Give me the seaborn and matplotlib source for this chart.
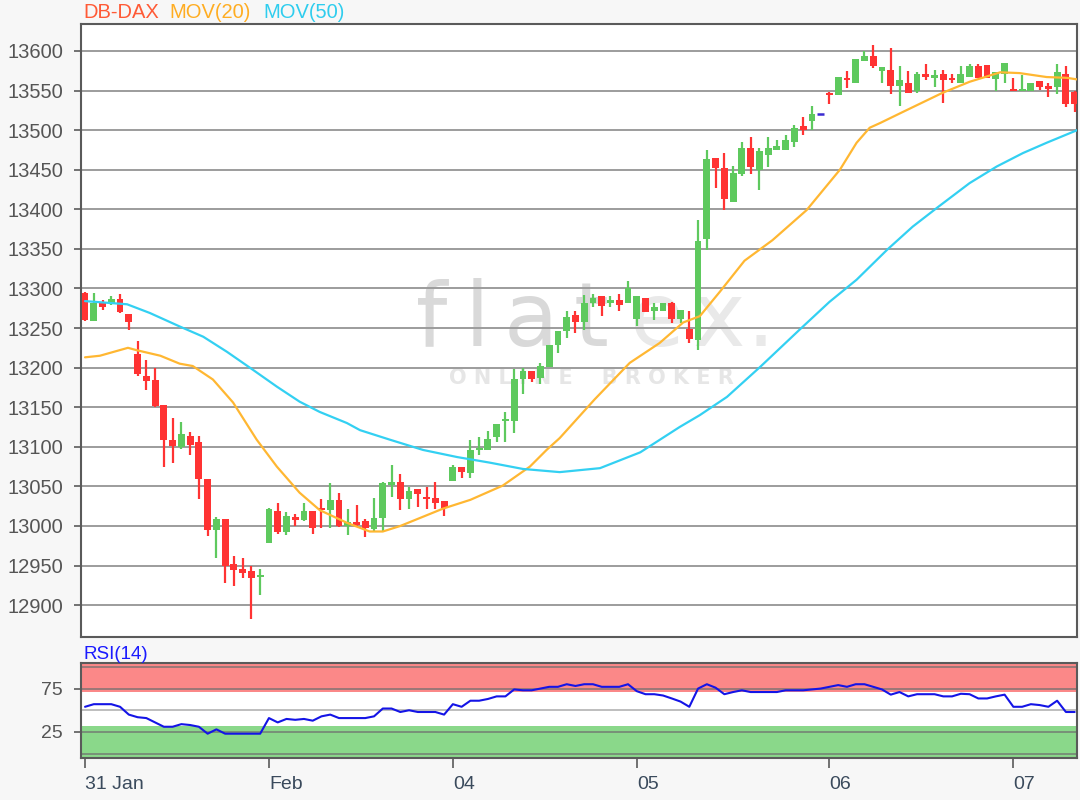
import numpy as np
import matplotlib
matplotlib.use("Agg")
import matplotlib.pyplot as plt
import seaborn as sns

# ---------------- data ----------------
opens = [13294, 13259, 13282, 13282, 13287, 13268, 13217, 13190, 13184, 13153,
         13109, 13100, 13113, 13106, 13059, 12995, 13009, 12952, 12946, 12943,
         12935, 12979, 13019, 12992, 13011, 13007, 13019, 13023, 13020, 13033,
         13000, 13005, 13006, 12996, 13010, 13052, 13055, 13034, 13047, 13037,
         13035, 13032, 13057, 13075, 13067, 13096, 13096, 13112, 13132, 13132,
         13185, 13196, 13187, 13201, 13229, 13246, 13266, 13257, 13281, 13290,
         13281, 13285, 13282, 13262, 13288, 13271, 13272, 13282, 13261, 13249,
         13235, 13362, 13465, 13452, 13409, 13444, 13478, 13450, 13469, 13475,
         13475, 13485, 13505, 13512, 13520, 13547, 13544, 13566, 13559, 13587,
         13594, 13575, 13576, 13556, 13560, 13549, 13571, 13566, 13571, 13566,
         13560, 13567, 13581, 13582, 13565, 13571, 13552, 13550, 13550, 13562,
         13556, 13554, 13571, 13548]
highs = [13296, 13294, 13286, 13290, 13293, 13268, 13234, 13209, 13199, 13153,
         13136, 13131, 13119, 13113, 13059, 13011, 13009, 12962, 12960, 12950,
         12946, 13023, 13029, 13017, 13015, 13029, 13019, 13034, 13054, 13041,
         13022, 13026, 13009, 13035, 13055, 13077, 13065, 13049, 13047, 13049,
         13055, 13032, 13077, 13075, 13108, 13112, 13120, 13129, 13144, 13198,
         13200, 13196, 13206, 13229, 13246, 13271, 13271, 13292, 13293, 13290,
         13290, 13293, 13310, 13290, 13288, 13281, 13281, 13283, 13273, 13271,
         13387, 13475, 13465, 13471, 13455, 13485, 13491, 13477, 13491, 13488,
         13494, 13506, 13517, 13530, 13520, 13548, 13567, 13575, 13590, 13600,
         13608, 13580, 13604, 13581, 13575, 13574, 13583, 13576, 13576, 13571,
         13581, 13583, 13584, 13582, 13573, 13585, 13566, 13569, 13560, 13562,
         13560, 13583, 13581, 13550]
lows = [13259, 13259, 13273, 13279, 13269, 13248, 13189, 13172, 13150, 13075,
        13079, 13097, 13090, 13034, 12987, 12959, 12928, 12924, 12934, 12883,
        12913, 12979, 12990, 12988, 13000, 13006, 12990, 12998, 12998, 12999,
        12988, 13000, 12986, 12993, 12993, 13037, 13020, 13022, 13024, 13022,
        13022, 13013, 13057, 13060, 13060, 13090, 13096, 13106, 13106, 13117,
        13167, 13182, 13179, 13201, 13218, 13237, 13244, 13248, 13276, 13265,
        13277, 13272, 13282, 13252, 13270, 13260, 13272, 13256, 13256, 13231,
        13222, 13348, 13427, 13399, 13409, 13442, 13444, 13424, 13453, 13475,
        13475, 13479, 13494, 13500, 13520, 13533, 13544, 13553, 13559, 13587,
        13578, 13560, 13545, 13531, 13547, 13547, 13563, 13555, 13534, 13560,
        13560, 13567, 13566, 13566, 13550, 13560, 13550, 13550, 13550, 13551,
        13542, 13546, 13529, 13523]
closes = [13260, 13282, 13277, 13287, 13270, 13257, 13192, 13183, 13152, 13109,
          13101, 13116, 13102, 13059, 12995, 13009, 12950, 12944, 12941, 12934,
          12938, 13022, 12992, 13012, 13008, 13019, 12998, 13020, 13033, 13000,
          13005, 13001, 12997, 13010, 13054, 13055, 13034, 13044, 13040, 13034,
          13029, 13023, 13075, 13068, 13096, 13099, 13110, 13129, 13135, 13185,
          13196, 13185, 13202, 13229, 13246, 13264, 13257, 13281, 13288, 13278,
          13285, 13279, 13300, 13290, 13270, 13276, 13281, 13262, 13273, 13236,
          13360, 13464, 13452, 13413, 13446, 13478, 13453, 13473, 13478, 13480,
          13488, 13503, 13500, 13520, 13520, 13544, 13567, 13563, 13590, 13594,
          13581, 13580, 13556, 13563, 13547, 13571, 13567, 13569, 13563, 13563,
          13571, 13581, 13566, 13566, 13573, 13585, 13550, 13552, 13560, 13554,
          13552, 13573, 13533, 13533]

rsi = [54, 57, 57, 57, 54, 45, 42, 41, 36, 31,
       31, 34, 33, 31, 23, 28, 23, 23, 23, 23,
       23, 41, 36, 40, 39, 40, 38, 43, 45, 41,
       41, 41, 41, 43, 52, 52, 48, 50, 48, 48,
       48, 45, 57, 54, 61, 61, 63, 66, 66, 74,
       73, 73, 75, 77, 77, 80, 78, 80, 80, 77,
       77, 77, 80, 72, 68.5, 68.5, 67, 63.6, 60, 54,
       75, 80, 76, 68.5, 71, 73, 71, 71, 71, 71,
       73, 73, 73, 74, 75, 77, 79, 77, 80, 80,
       77, 74, 68, 71, 66, 68.5, 68.5, 68.5, 66, 66,
       69, 68.5, 63.6, 63.6, 66, 68, 54, 54, 57, 56,
       54, 61, 48, 48]

# moving averages, read at candle positions
ma20_at = [0, 1.7, 4.9, 5.9, 8.6, 10.8, 12.3, 14.6, 16.9, 19.6, 21.9, 24.5, 26.8,
           29.9, 32.5, 34, 36, 40.9, 44, 47.7, 50.8, 52.7, 54.2, 58.2, 62.2, 65.6,
           68.3, 70.2, 72.5, 75.3, 78.5, 82.4, 86.2, 88.1, 89.6, 90.8, 93.4, 97.9,
           101, 104.5, 106.7, 109.8, 112.1, 113.3]
ma20 = [13213, 13215, 13225, 13222, 13215, 13205, 13202, 13185, 13156, 13109, 13075,
        13042, 13020, 13004, 12993, 12993, 13000, 13022, 13033, 13051, 13075, 13096,
        13111, 13160, 13206, 13231, 13257, 13265, 13296, 13335, 13361, 13399, 13450,
        13484, 13503, 13509, 13523, 13547, 13561, 13573, 13572, 13567, 13566, 13564]
ma50_at = [0, 4.8, 7.4, 10.8, 13.5, 16.2, 19.2, 21.9, 24.5, 26.8, 29.9, 31.4, 34.8,
           38.6, 42.5, 46.2, 50, 54.2, 58.8, 63.4, 67.9, 70.2, 73.3, 77.1, 81.6, 85.0,
           88.1, 91.6, 94.5, 97.3, 101, 104.1, 107.1, 109.8, 113.3]
ma50 = [13284, 13280, 13269, 13252, 13239, 13220, 13197, 13176, 13157, 13144, 13130,
        13121, 13109, 13096, 13087, 13080, 13072, 13068, 13073, 13093, 13125, 13140,
        13163, 13201, 13248, 13283, 13311, 13349, 13378, 13402, 13433, 13454, 13471,
        13484, 13500]

day_labels = ["31 Jan", "Feb", "04", "05", "06", "07"]
day_at = [0, 21, 42, 63, 85, 106]
price_ticks = list(range(12900, 13601, 50))
rsi_ticks = [25, 75]
rsi_grid = [0, 25, 50, 75, 100]

# ---------------- style ----------------
sns.set_theme(style="white")
plt.rcParams['font.family'] = ['Liberation Sans', 'DejaVu Sans']

GREEN = "#5ec95e"
RED = "#ff3333"
ORANGE = "#ffb732"
CYAN = "#33d0f2"
GRID = "#9c9c9c"
SPINE = "#5a5a5a"

fig = plt.figure(figsize=(10.8, 8.0), dpi=100, facecolor="#f7f7f7")
ax = fig.add_axes([0.075, 0.204, 0.922, 0.766])
ax2 = fig.add_axes([0.075, 0.0525, 0.922, 0.1188], sharex=ax)

o = np.array(opens, float)
h = np.array(highs, float)
l = np.array(lows, float)
c = np.array(closes, float)
idx = np.arange(len(o))
up = c > o
dn = c < o
flat = c == o

# watermark (letter-spaced brand text)
wm_letters = ["f", "l", "a", "t", "e", "x", "."]
wm_cols = ["#d9d9d9", "#d9d9d9", "#d9d9d9", "#d9d9d9", "#e9e9e9", "#e9e9e9", "#e9e9e9"]
wm_x = [0.352, 0.398, 0.452, 0.512, 0.578, 0.640, 0.683]
for ch, col, xx in zip(wm_letters, wm_cols, wm_x):
    ax.text(xx, 0.515, ch, transform=ax.transAxes, ha="center", va="center",
            fontsize=64, color=col, family="DejaVu Sans", zorder=0.5)
ax.text(0.513, 0.4225, "O N L I N E    B R O K E R", transform=ax.transAxes,
        ha="center", va="center", fontsize=15, color="#e6e6e6", fontweight="bold",
        family="DejaVu Sans", zorder=0.5)

# candles
ax.vlines(idx[up], l[up], h[up], color=GREEN, lw=1.6, zorder=3)
ax.vlines(idx[dn], l[dn], h[dn], color=RED, lw=1.6, zorder=3)
ax.bar(idx[up], c[up] - o[up], bottom=o[up], width=0.78, color=GREEN, zorder=4, linewidth=0)
ax.bar(idx[dn], o[dn] - c[dn], bottom=c[dn], width=0.78, color=RED, zorder=4, linewidth=0)
ax.hlines(c[flat], idx[flat] - 0.4, idx[flat] + 0.4, color="#3b2bd0", lw=1.8, zorder=4)

# moving averages
sns.lineplot(x=ma20_at, y=ma20, ax=ax, color=ORANGE, lw=1.6, zorder=5)
sns.lineplot(x=ma50_at, y=ma50, ax=ax, color=CYAN, lw=1.6, zorder=5)

ax.set_xlim(-0.46, 113.24)
ax.set_ylim(12860, 13634)
ax.set_yticks(price_ticks)
ax.set_yticklabels([str(v) for v in price_ticks])
ax.yaxis.grid(True, color=GRID, lw=1.4, zorder=1)
ax.xaxis.grid(False)
ax.set_axisbelow(True)
ax.tick_params(axis="y", which="both", left=True, length=5, width=1.2, color=SPINE,
               direction="out", labelsize=14.5, labelcolor="#555555", pad=8)
ax.tick_params(axis="x", bottom=False, labelbottom=False)
ax.set_xlabel("")
ax.set_ylabel("")
ax.set_facecolor("white")
for s in ax.spines.values():
    s.set_color(SPINE)
    s.set_linewidth(1.5)

# RSI panel
ax2.set_facecolor("white")
ax2.axhspan(71.5, 105, color="#fb8888", zorder=1, lw=0)
ax2.axhspan(-6, 32, color="#8ad88a", zorder=1, lw=0)
for g in rsi_grid:
    ax2.axhline(g, color="#6f6f6f" if g != 50 else "#a0a0a0", lw=1.2, alpha=0.8, zorder=2)
sns.lineplot(x=idx, y=rsi, ax=ax2, color="#1414e6", lw=1.5, zorder=5)
ax2.set_ylim(-5, 104.5)
ax2.set_yticks(rsi_ticks)
ax2.set_yticklabels([str(v) for v in rsi_ticks])
ax2.set_xticks(day_at)
ax2.set_xticklabels(day_labels)
for t in ax2.get_xticklabels():
    t.set_ha("left")
ax2.tick_params(axis="x", bottom=True, length=7, width=1.2, color=SPINE, direction="out",
                labelsize=14, labelcolor="#3a4a5c", pad=6)
ax2.tick_params(axis="y", left=True, length=5, width=1.2, color=SPINE, direction="out",
                labelsize=14, labelcolor="#555555", pad=8)
ax2.grid(False)
ax2.set_xlabel("")
ax2.set_ylabel("")
for s in ax2.spines.values():
    s.set_color(SPINE)
    s.set_linewidth(1.5)
ax2.set_xlim(-0.46, 113.24)

# headers
fig.text(0.077, 0.984, "DB-DAX", color="#ff5a36", fontsize=14.5, va="center", ha="left")
fig.text(0.157, 0.984, "MOV(20)", color="#ffad22", fontsize=14.5, va="center", ha="left")
fig.text(0.244, 0.984, "MOV(50)", color="#2fcdee", fontsize=14.5, va="center", ha="left")
fig.text(0.077, 0.182, "RSI(14)", color="#1a1aff", fontsize=13.5, va="center", ha="left")

fig.savefig("out.png", dpi=100, facecolor=fig.get_facecolor())
